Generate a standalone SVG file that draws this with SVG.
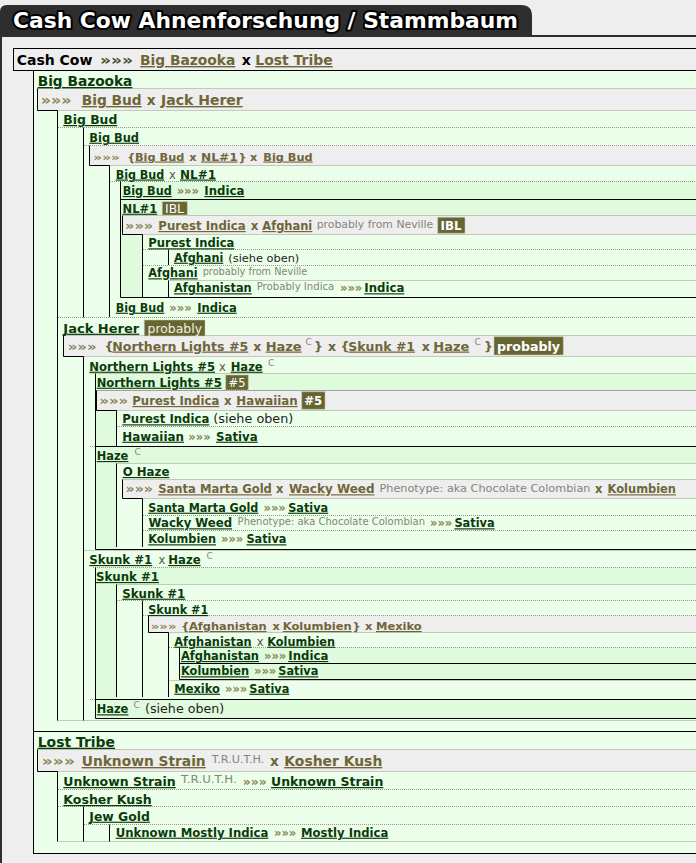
<svg xmlns="http://www.w3.org/2000/svg" width="696" height="863" viewBox="0 0 696 863">
<style>
text{font-family:"DejaVu Sans",Verdana,sans-serif}
.b{font-weight:bold}
.lk{fill:#0b3b0b;font-weight:bold;text-decoration:underline}
.gl{fill:#6e6638;font-weight:bold;text-decoration:underline}
.ar{fill:#8a8658;font-weight:bold}
.xg{fill:#6e6638;font-weight:bold}
.xr{fill:#555}
.rg{fill:#222}
.nt{fill:#85857a}
.sup{fill:#888;font-size:9px}
.bdg{fill:#666633;stroke:#c9c9b0;stroke-dasharray:1 1}
.bt{fill:#fff}
.bt2{fill:#f0f0e2}
.dot{stroke:#9b9b85;stroke-dasharray:1 1;fill:none}
.dotk{stroke:#555;stroke-dasharray:1 1;fill:none}
.ln{stroke:#000;fill:none}
.gr{fill:#eeeeee}
.D{fill:#e0fade}
.L{fill:#ebffeb}
</style>
<g id="frame">
<rect x="0" y="0" width="696" height="863" fill="#eeeeee"/>
<path d="M0,36 V12 Q0,5 7,5 H521 Q532,5 532,16 V36 Z" fill="#2e2e2e"/>
<rect x="0" y="35" width="696" height="2" fill="#2e2e2e"/>
<rect x="0" y="35" width="2" height="828" fill="#2e2e2e"/>
<text x="13" y="28" font-size="21.5" font-weight="bold" fill="#fff" stroke="#000" stroke-width="4" stroke-linejoin="round" paint-order="stroke" textLength="505" lengthAdjust="spacingAndGlyphs">Cash Cow Ahnenforschung / Stammbaum</text>
<rect x="13.5" y="48.5" width="700" height="22" fill="#eeeeee" stroke="#000"/>
<rect x="33.5" y="70.5" width="700" height="783" class="L" stroke="#000"/>
</g>
<g id="backgrounds">
<rect x="120.5" y="181.5" width="576" height="116" class="D"/>
<rect x="142.5" y="234.5" width="554" height="63" class="L"/>
<rect x="95.5" y="373.5" width="601" height="176" class="D"/>
<rect x="116.5" y="410.5" width="580" height="36" class="L"/>
<rect x="116.5" y="463.5" width="580" height="86" class="L"/>
<rect x="95.5" y="567.5" width="601" height="151" class="D"/>
<rect x="116.5" y="584.5" width="580" height="115" class="L"/>
<rect x="179.5" y="647.5" width="517" height="32" class="D"/>
<rect x="37.5" y="88.5" width="659" height="22" class="gr"/>
<rect x="89.5" y="145.5" width="607" height="20" class="gr"/>
<rect x="122.5" y="215.5" width="574" height="19" class="gr"/>
<rect x="63.5" y="335.5" width="633" height="21" class="gr"/>
<rect x="96.5" y="390.5" width="600" height="20" class="gr"/>
<rect x="122.5" y="479.5" width="574" height="19" class="gr"/>
<rect x="148.5" y="615.5" width="548" height="17" class="gr"/>
<rect x="37.5" y="749.5" width="659" height="22" class="gr"/>
</g>
<g id="connectors">
<path class="dot" d="M37.5,88.5H696 M57.5,110.5H696 M58,127.5H696 M84,145.5H696 M109.5,165.5H696 M110,181.5H696 M122.5,215.5H696 M142.5,234.5H696 M143,249.5H696 M143,265.5H696 M168.5,280.5H696 M58,317.5H696 M63.5,335.5H696 M83.5,356.5H696 M89.5,373.5H696 M116.5,410.5H696 M117,426.5H696 M90,446.5H96 M116.5,463.5H696 M122.5,479.5H696 M142.5,498.5H696 M143,515.5H696 M143,530.5H696 M83.5,550.5H696 M93,567.5H696 M116.5,584.5H696 M117,600.5H696 M143,615.5H696 M168.5,632.5H696 M169,647.5H696 M168.5,680.5H696 M90,699.5H96 M57.5,720.5H696 M37.5,749.5H696 M57.5,771.5H696 M58,789.5H696 M58,806.5H696 M84,824.5H696 M57.5,841.5H696"/>
<path class="dotk" d="M96.5,390.5H696"/>
<path class="ln" d="M57.5,110.5V720.5 M57.5,771.5V841.5 M83.5,127.5V317.5 M83.5,356.5V720.5 M83.5,806.5V841.5 M109.5,165.5V317 M109.5,824.5V841.5 M120.5,181.5V297.5 M142.5,234.5V297 M142.5,498.5V547 M142.5,600.5V697 M168.5,249.5V265 M168.5,280.5V297 M168.5,632.5V697 M95.5,373.5V549.5 M95.5,567.5V718.5 M116.5,410.5V446.5 M116.5,463.5V547 M116.5,584.5V697 M179.5,647.5V679.5"/>
<path class="ln" d="M37.5,88.5V110.5H57.5 M89.5,145.5V165.5H109.5 M122.5,215.5V234.5H142.5 M63.5,335.5V356.5H83.5 M96.5,390.5V410.5H116.5 M122.5,479.5V498.5H142.5 M148.5,615.5V632.5H168.5 M37.5,749.5V771.5H57.5"/>
<path class="ln" d="M120.5,199.5H696 M120.5,297.5H696 M95.5,446.5H696 M95.5,549.5H696 M179.5,663.5H696 M179.5,679.5H696 M95.5,699.5H696 M95.5,718.5H696 M33.5,731.5H696"/>
</g>
<g id="n-cashcow" font-size="14">
<text x="16.7" y="65" class="b" fill="#000">Cash Cow</text>
<text x="100" y="65" class="b" fill="#4a4a30" textLength="33" lengthAdjust="spacingAndGlyphs">»»»</text>
<text x="140" y="65" class="gl" textLength="95.3" lengthAdjust="spacingAndGlyphs">Big Bazooka</text>
<text x="241.7" y="65" class="b" fill="#000">x</text>
<text x="255.3" y="65" class="gl" textLength="77.4" lengthAdjust="spacingAndGlyphs">Lost Tribe</text>
</g>
<g id="n-bigbazooka" font-size="13.6">
<text x="37.7" y="86" class="lk" textLength="94.7" lengthAdjust="spacingAndGlyphs">Big Bazooka</text>
</g>
<g id="n-bigbazooka-parents" font-size="13.7">
<text x="40.7" y="105" class="ar" textLength="31" lengthAdjust="spacingAndGlyphs">»»»</text>
<text x="81.7" y="105" class="gl" textLength="60" lengthAdjust="spacingAndGlyphs">Big Bud</text>
<text x="146.7" y="105" class="xg">x</text>
<text x="161" y="105" class="gl" textLength="81.7" lengthAdjust="spacingAndGlyphs">Jack Herer</text>
</g>
<g id="n-bigbud" font-size="12.4">
<text x="63.3" y="124" class="lk" textLength="54" lengthAdjust="spacingAndGlyphs">Big Bud</text>
</g>
<g id="n-bigbud-2" font-size="11.5">
<text x="89.3" y="141.7" class="lk" textLength="49.7" lengthAdjust="spacingAndGlyphs">Big Bud</text>
</g>
<g id="n-bigbud-2-parents" font-size="11.3">
<text x="93.3" y="160.5" class="ar" textLength="26.7" lengthAdjust="spacingAndGlyphs">»»»</text>
<text x="127.3" y="160.5" class="xg">{</text>
<text x="135" y="160.5" class="gl" textLength="49.3" lengthAdjust="spacingAndGlyphs">Big Bud</text>
<text x="189.3" y="160.5" class="xg">x</text>
<text x="201" y="160.5" class="gl" textLength="36.7" lengthAdjust="spacingAndGlyphs">NL#1</text>
<text x="238.5" y="160.5" class="xg">}</text>
<text x="250" y="160.5" class="xg">x</text>
<text x="263.3" y="160.5" class="gl" textLength="49.3" lengthAdjust="spacingAndGlyphs">Big Bud</text>
</g>
<g id="n-bigbud-x-nl1" font-size="11.5">
<text x="115.7" y="178.5" class="lk" textLength="48.6" lengthAdjust="spacingAndGlyphs">Big Bud</text>
<text x="169" y="178.5" class="xr">x</text>
<text x="180" y="178.5" class="lk" textLength="36" lengthAdjust="spacingAndGlyphs">NL#1</text>
</g>
<g id="n-bigbud-indica-1" font-size="11.5">
<text x="122.7" y="195" class="lk" textLength="49" lengthAdjust="spacingAndGlyphs">Big Bud</text>
<text x="176.7" y="195" class="ar">»»»</text>
<text x="204.3" y="195" class="lk" textLength="40" lengthAdjust="spacingAndGlyphs">Indica</text>
</g>
<g id="n-nl1" font-size="11.5">
<text x="122.5" y="212.7" class="lk" textLength="34.7" lengthAdjust="spacingAndGlyphs">NL#1</text>
<rect x="162.3" y="201.7" width="25" height="13.3" class="bdg"/>
<text x="165" y="213" class="bt" textLength="19" lengthAdjust="spacingAndGlyphs">IBL</text>
</g>
<g id="n-nl1-parents" font-size="11.8">
<text x="125" y="230" class="ar" textLength="28.3" lengthAdjust="spacingAndGlyphs">»»»</text>
<text x="158.3" y="230" class="gl" textLength="87.4" lengthAdjust="spacingAndGlyphs">Purest Indica</text>
<text x="250.7" y="230" class="xg">x</text>
<text x="262.3" y="230" class="gl" textLength="50" lengthAdjust="spacingAndGlyphs">Afghani</text>
<text x="316.7" y="228" class="nt" font-size="10.8" textLength="116.6" lengthAdjust="spacingAndGlyphs">probably from Neville</text>
<rect x="437.7" y="217.3" width="27.3" height="16" class="bdg"/>
<text x="440.5" y="230" class="bt b" font-size="12" textLength="21" lengthAdjust="spacingAndGlyphs">IBL</text>
</g>
<g id="n-purest-indica-1" font-size="11.5">
<text x="148.3" y="247.3" class="lk" textLength="86" lengthAdjust="spacingAndGlyphs">Purest Indica</text>
</g>
<g id="n-afghani-ref" font-size="11.5">
<text x="174" y="261.7" class="lk" textLength="49.3" lengthAdjust="spacingAndGlyphs">Afghani</text>
<text x="228.3" y="261.7" class="rg" font-size="11.3" textLength="71" lengthAdjust="spacingAndGlyphs">(siehe oben)</text>
</g>
<g id="n-afghani" font-size="11.5">
<text x="148.3" y="277.3" class="lk" textLength="49.4" lengthAdjust="spacingAndGlyphs">Afghani</text>
<text x="202.7" y="275" class="nt" font-size="9.7" textLength="104.6" lengthAdjust="spacingAndGlyphs">probably from Neville</text>
</g>
<g id="n-afghanistan-1" font-size="11.5">
<text x="174" y="292.3" class="lk" textLength="77.7" lengthAdjust="spacingAndGlyphs">Afghanistan</text>
<text x="256.7" y="290" class="nt" font-size="10" textLength="77.6" lengthAdjust="spacingAndGlyphs">Probably Indica</text>
<text x="340" y="292.3" class="ar">»»»</text>
<text x="364.3" y="292.3" class="lk" textLength="40" lengthAdjust="spacingAndGlyphs">Indica</text>
</g>
<g id="n-bigbud-indica-2" font-size="11.5">
<text x="115.7" y="311.7" class="lk" textLength="48.6" lengthAdjust="spacingAndGlyphs">Big Bud</text>
<text x="169.3" y="311.7" class="ar">»»»</text>
<text x="197.3" y="311.7" class="lk" textLength="39.4" lengthAdjust="spacingAndGlyphs">Indica</text>
</g>
<g id="n-jackherer" font-size="12.4">
<text x="63.3" y="332.7" class="lk" textLength="76" lengthAdjust="spacingAndGlyphs">Jack Herer</text>
<rect x="144.3" y="320" width="60.7" height="16" class="bdg"/>
<text x="147.5" y="332.5" class="bt2" textLength="54.5" lengthAdjust="spacingAndGlyphs">probably</text>
</g>
<g id="n-jackherer-parents" font-size="12.5">
<text x="67.7" y="350.5" class="ar" textLength="29" lengthAdjust="spacingAndGlyphs">»»»</text>
<text x="104.5" y="350.5" class="xg">{</text>
<text x="112.3" y="350.5" class="gl" textLength="136" lengthAdjust="spacingAndGlyphs">Northern Lights #5</text>
<text x="253.3" y="350.5" class="xg">x</text>
<text x="265.7" y="350.5" class="gl" textLength="36" lengthAdjust="spacingAndGlyphs">Haze</text>
<text x="305.5" y="345" class="sup">C</text>
<text x="314" y="350.5" class="xg">}</text>
<text x="328" y="350.5" class="xg">x</text>
<text x="340.5" y="350.5" class="xg">{</text>
<text x="348.3" y="350.5" class="gl" textLength="66.7" lengthAdjust="spacingAndGlyphs">Skunk #1</text>
<text x="421.7" y="350.5" class="xg">x</text>
<text x="433.3" y="350.5" class="gl" textLength="36" lengthAdjust="spacingAndGlyphs">Haze</text>
<text x="474.5" y="345" class="sup">C</text>
<text x="484" y="350.5" class="xg">}</text>
<rect x="494" y="336.7" width="69.3" height="18.3" class="bdg"/>
<text x="497" y="350.5" class="bt b" textLength="63" lengthAdjust="spacingAndGlyphs">probably</text>
</g>
<g id="n-nl5-x-haze" font-size="11.5">
<text x="89.3" y="370.7" class="lk" textLength="125.7" lengthAdjust="spacingAndGlyphs">Northern Lights #5</text>
<text x="219" y="370.7" class="xr">x</text>
<text x="230.7" y="370.7" class="lk" textLength="32" lengthAdjust="spacingAndGlyphs">Haze</text>
<text x="268" y="366" class="sup">C</text>
</g>
<g id="n-nl5" font-size="11.5">
<text x="96.7" y="386.7" class="lk" textLength="125" lengthAdjust="spacingAndGlyphs">Northern Lights #5</text>
<rect x="225.7" y="375" width="22.6" height="15" class="bdg"/>
<text x="228.5" y="387" class="bt" textLength="17" lengthAdjust="spacingAndGlyphs">#5</text>
</g>
<g id="n-nl5-parents" font-size="11.7">
<text x="99.3" y="405" class="ar" textLength="29" lengthAdjust="spacingAndGlyphs">»»»</text>
<text x="132.3" y="405" class="gl" textLength="87" lengthAdjust="spacingAndGlyphs">Purest Indica</text>
<text x="224" y="405" class="xg">x</text>
<text x="236.3" y="405" class="gl" textLength="61.4" lengthAdjust="spacingAndGlyphs">Hawaiian</text>
<rect x="301.7" y="391.7" width="23.3" height="17.6" class="bdg"/>
<text x="304.3" y="405" class="bt b" textLength="18" lengthAdjust="spacingAndGlyphs">#5</text>
</g>
<g id="n-purest-indica-ref" font-size="11.5">
<text x="122.3" y="423.3" class="lk" textLength="87" lengthAdjust="spacingAndGlyphs">Purest Indica</text>
<text x="213.3" y="423.3" class="rg" font-size="12.5" textLength="80" lengthAdjust="spacingAndGlyphs">(siehe oben)</text>
</g>
<g id="n-hawaiian" font-size="11.5">
<text x="122.3" y="440.7" class="lk" textLength="61.7" lengthAdjust="spacingAndGlyphs">Hawaiian</text>
<text x="188.3" y="440.7" class="ar">»»»</text>
<text x="216" y="440.7" class="lk" textLength="41.7" lengthAdjust="spacingAndGlyphs">Sativa</text>
</g>
<g id="n-haze" font-size="11.5">
<text x="96.7" y="460" class="lk" textLength="31.7" lengthAdjust="spacingAndGlyphs">Haze</text>
<text x="134.5" y="455" class="sup">C</text>
</g>
<g id="n-ohaze" font-size="11.5">
<text x="122.7" y="476" class="lk" textLength="46.7" lengthAdjust="spacingAndGlyphs">O Haze</text>
</g>
<g id="n-ohaze-parents" font-size="11.5">
<text x="125.5" y="493.3" class="ar" textLength="27.5" lengthAdjust="spacingAndGlyphs">»»»</text>
<text x="158.2" y="493.3" class="gl" textLength="113.7" lengthAdjust="spacingAndGlyphs">Santa Marta Gold</text>
<text x="276" y="493.3" class="xg">x</text>
<text x="289" y="493.3" class="gl" textLength="85.5" lengthAdjust="spacingAndGlyphs">Wacky Weed</text>
<text x="379.5" y="491.5" class="nt" font-size="11" textLength="211" lengthAdjust="spacingAndGlyphs">Phenotype: aka Chocolate Colombian</text>
<text x="595" y="493.3" class="xg">x</text>
<text x="607.6" y="493.3" class="gl" textLength="68.4" lengthAdjust="spacingAndGlyphs">Kolumbien</text>
</g>
<g id="n-santa-marta-gold" font-size="11.5">
<text x="148.3" y="511.7" class="lk" textLength="110" lengthAdjust="spacingAndGlyphs">Santa Marta Gold</text>
<text x="263.5" y="511.7" class="ar">»»»</text>
<text x="288.2" y="511.7" class="lk" textLength="40" lengthAdjust="spacingAndGlyphs">Sativa</text>
</g>
<g id="n-wacky-weed" font-size="11.5">
<text x="148.5" y="527.3" class="lk" textLength="83.6" lengthAdjust="spacingAndGlyphs">Wacky Weed</text>
<text x="237.6" y="525" class="nt" font-size="10" textLength="187.5" lengthAdjust="spacingAndGlyphs">Phenotype: aka Chocolate Colombian</text>
<text x="430" y="527.3" class="ar">»»»</text>
<text x="454.4" y="527.3" class="lk" textLength="40.3" lengthAdjust="spacingAndGlyphs">Sativa</text>
</g>
<g id="n-kolumbien-1" font-size="11.5">
<text x="148.3" y="543.3" class="lk" textLength="67.7" lengthAdjust="spacingAndGlyphs">Kolumbien</text>
<text x="221" y="543.3" class="ar">»»»</text>
<text x="246.4" y="543.3" class="lk" textLength="40" lengthAdjust="spacingAndGlyphs">Sativa</text>
</g>
<g id="n-skunk-x-haze" font-size="11.5">
<text x="89.3" y="564" class="lk" textLength="63" lengthAdjust="spacingAndGlyphs">Skunk #1</text>
<text x="158.5" y="564" class="xr">x</text>
<text x="168.3" y="564" class="lk" textLength="32.3" lengthAdjust="spacingAndGlyphs">Haze</text>
<text x="206.5" y="559" class="sup">C</text>
</g>
<g id="n-skunk1-a" font-size="11.5">
<text x="96" y="581" class="lk" textLength="63" lengthAdjust="spacingAndGlyphs">Skunk #1</text>
</g>
<g id="n-skunk1-b" font-size="11.5">
<text x="122.3" y="597.7" class="lk" textLength="63" lengthAdjust="spacingAndGlyphs">Skunk #1</text>
</g>
<g id="n-skunk1-c" font-size="11.5">
<text x="148.3" y="614" class="lk" textLength="60" lengthAdjust="spacingAndGlyphs">Skunk #1</text>
</g>
<g id="n-skunk1-parents" font-size="11.3">
<text x="150.7" y="630" class="ar" textLength="26" lengthAdjust="spacingAndGlyphs">»»»</text>
<text x="181.3" y="630" class="xg">{</text>
<text x="189" y="630" class="gl" textLength="77.7" lengthAdjust="spacingAndGlyphs">Afghanistan</text>
<text x="272.5" y="630" class="xg">x</text>
<text x="282.7" y="630" class="gl" textLength="69" lengthAdjust="spacingAndGlyphs">Kolumbien</text>
<text x="352.5" y="630" class="xg">}</text>
<text x="365" y="630" class="xg">x</text>
<text x="376" y="630" class="gl" textLength="45.7" lengthAdjust="spacingAndGlyphs">Mexiko</text>
</g>
<g id="n-afg-x-kol" font-size="11.5">
<text x="174.3" y="645.7" class="lk" textLength="77.4" lengthAdjust="spacingAndGlyphs">Afghanistan</text>
<text x="256.8" y="645.7" class="xr">x</text>
<text x="267.3" y="645.7" class="lk" textLength="67.7" lengthAdjust="spacingAndGlyphs">Kolumbien</text>
</g>
<g id="n-afghanistan-2" font-size="11.5">
<text x="181" y="660" class="lk" textLength="78" lengthAdjust="spacingAndGlyphs">Afghanistan</text>
<text x="264" y="660" class="ar">»»»</text>
<text x="288.3" y="660" class="lk" textLength="40" lengthAdjust="spacingAndGlyphs">Indica</text>
</g>
<g id="n-kolumbien-2" font-size="11.5">
<text x="181" y="675.3" class="lk" textLength="68" lengthAdjust="spacingAndGlyphs">Kolumbien</text>
<text x="254" y="675.3" class="ar">»»»</text>
<text x="278.3" y="675.3" class="lk" textLength="40" lengthAdjust="spacingAndGlyphs">Sativa</text>
</g>
<g id="n-mexiko" font-size="11.5">
<text x="174.3" y="692.7" class="lk" textLength="45.7" lengthAdjust="spacingAndGlyphs">Mexiko</text>
<text x="225" y="692.7" class="ar">»»»</text>
<text x="249.3" y="692.7" class="lk" textLength="40" lengthAdjust="spacingAndGlyphs">Sativa</text>
</g>
<g id="n-haze-ref" font-size="11.5">
<text x="96.7" y="713.3" class="lk" textLength="31.7" lengthAdjust="spacingAndGlyphs">Haze</text>
<text x="133.5" y="708" class="sup">C</text>
<text x="145" y="713.3" class="rg" font-size="12.5" textLength="79.3" lengthAdjust="spacingAndGlyphs">(siehe oben)</text>
</g>
<g id="n-losttribe" font-size="13.6">
<text x="37.7" y="746.7" class="lk" textLength="77.3" lengthAdjust="spacingAndGlyphs">Lost Tribe</text>
</g>
<g id="n-losttribe-parents" font-size="13.7">
<text x="41.7" y="766" class="ar" textLength="33.3" lengthAdjust="spacingAndGlyphs">»»»</text>
<text x="81.7" y="766" class="gl" textLength="124" lengthAdjust="spacingAndGlyphs">Unknown Strain</text>
<text x="211.7" y="763" class="nt" font-size="10.5" textLength="52.6" lengthAdjust="spacingAndGlyphs">T.R.U.T.H.</text>
<text x="270" y="766" class="xg">x</text>
<text x="284.3" y="766" class="gl" textLength="98" lengthAdjust="spacingAndGlyphs">Kosher Kush</text>
</g>
<g id="n-unknown-strain" font-size="12.4">
<text x="63.3" y="786" class="lk" textLength="112.4" lengthAdjust="spacingAndGlyphs">Unknown Strain</text>
<text x="181" y="782.5" class="nt" font-size="11" textLength="55.7" lengthAdjust="spacingAndGlyphs">T.R.U.T.H.</text>
<text x="242.7" y="786" class="ar">»»»</text>
<text x="271" y="786" class="lk" textLength="112.3" lengthAdjust="spacingAndGlyphs">Unknown Strain</text>
</g>
<g id="n-kosher-kush" font-size="12.4">
<text x="63.3" y="804" class="lk" textLength="88.4" lengthAdjust="spacingAndGlyphs">Kosher Kush</text>
</g>
<g id="n-jew-gold" font-size="11.5">
<text x="89.3" y="820.7" class="lk" textLength="60.7" lengthAdjust="spacingAndGlyphs">Jew Gold</text>
</g>
<g id="n-unknown-mostly-indica" font-size="11.5">
<text x="115.7" y="836.7" class="lk" textLength="152.7" lengthAdjust="spacingAndGlyphs">Unknown Mostly Indica</text>
<text x="274" y="836.7" class="ar">»»»</text>
<text x="301" y="836.7" class="lk" textLength="87.3" lengthAdjust="spacingAndGlyphs">Mostly Indica</text>
</g>
</svg>
